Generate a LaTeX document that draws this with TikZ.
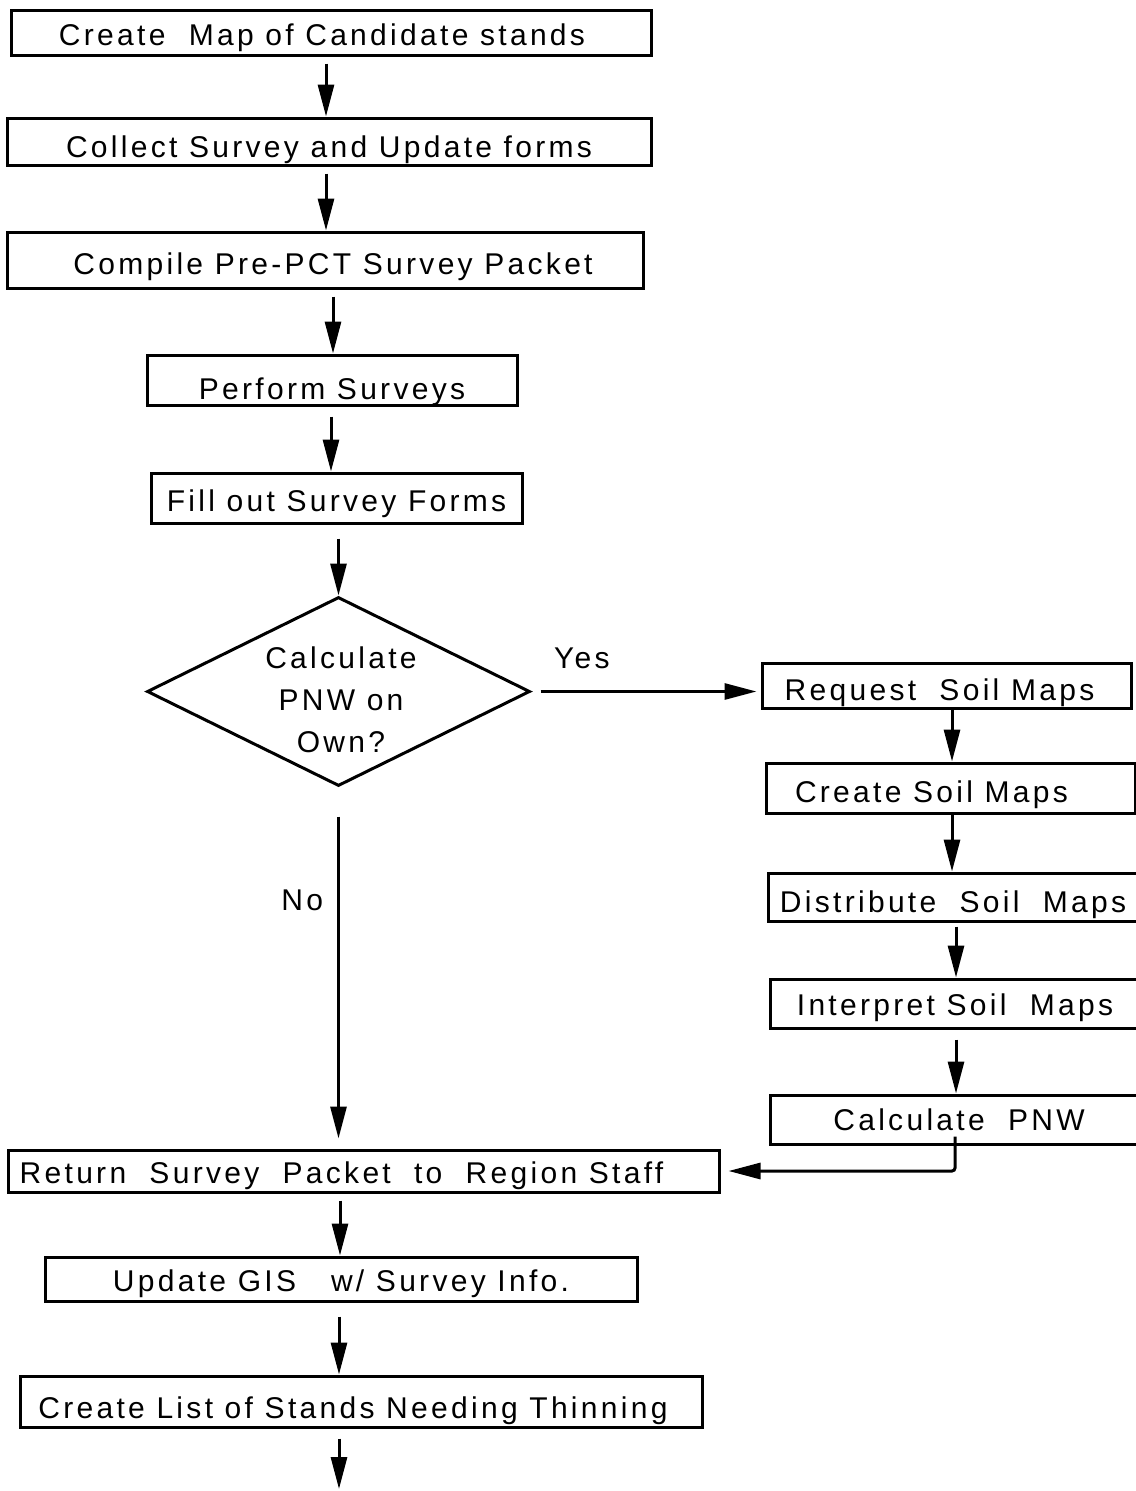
\documentclass[tikz,border=0pt]{standalone}
\usepackage{fontspec}
\setmainfont{Liberation Sans}[LetterSpace=11]
\usetikzlibrary{arrows.meta,shapes.geometric}
% shift a label sideways inside its box
\newcommand{\nudge}[2]{\hspace*{\dimexpr 2\dimexpr#1\relax\relax}#2}
\newcommand{\nudgeleft}[2]{#2\hspace*{\dimexpr 2\dimexpr#1\relax\relax}}
\begin{document}
\begin{tikzpicture}[x=1pt,y=-1pt,
  every node/.style={font=\fontsize{30}{42}\selectfont},
  stepbox/.style={draw, line width=3pt, rectangle, inner sep=0pt, text height=25pt, text depth=0pt},
  decision/.style={draw, line width=3pt, diamond, inner sep=0pt},
  flow/.style={line width=3pt, -{Triangle[length=32pt,width=16pt]}},
  gap/.style={shorten <=7pt}]
\useasboundingbox (0,0) rectangle (1135,1491);

% main column
\node[stepbox, minimum width=640pt, minimum height=45pt, text height=26pt] (map) at (331,32.5)
  {\nudgeleft{9pt}{Create \ Map of Candidate stands}};
\node[stepbox, minimum width=644pt, minimum height=47pt, text height=32pt] (collect) at (329,141.5)
  {Collect Survey and Update forms};
\node[stepbox, minimum width=636pt, minimum height=56pt, text height=29pt] (compile) at (325,260)
  {\nudge{8pt}{Compile Pre-PCT Survey Packet}};
\node[stepbox, minimum width=370pt, minimum height=50pt, text height=39pt] (perform) at (332,380)
  {Perform Surveys};
\node[stepbox, minimum width=371pt, minimum height=50pt, text height=27pt] (fill) at (336.5,498)
  {Fill out Survey Forms};
\node[decision, minimum width=383pt, minimum height=189pt] (own) at (338.5,691.5) {};
\node[align=center, inner sep=0pt] (owntext) at (341,700) {Calculate\\PNW on\\Own?};

% soil map branch
\node[stepbox, minimum width=369pt, minimum height=45pt, text height=30pt] (request) at (946.5,685.5)
  {\nudgeleft{7pt}{Request \ Soil Maps}};
\node[stepbox, minimum width=369pt, minimum height=50pt, text height=29pt] (createsoil) at (950.5,788)
  {\nudgeleft{19pt}{Create Soil Maps}};
\node[stepbox, minimum width=370pt, minimum height=48pt, text height=31pt] (distribute) at (953,897)
  {Distribute \ Soil \ Maps};
\node[stepbox, minimum width=370pt, minimum height=49pt, text height=24pt] (interpret) at (955,1003.5)
  {Interpret Soil \ Maps};
\node[stepbox, minimum width=370pt, minimum height=49pt, text height=21pt] (calcpnw) at (955,1119.5)
  {\nudge{4pt}{Calculate \ PNW}};

% closing steps
\node[stepbox, minimum width=711pt, minimum height=42pt, text height=25pt] (return) at (363.5,1171)
  {\nudgeleft{22pt}{Return \ Survey \ Packet \ to \ Region Staff}};
\node[stepbox, minimum width=592pt, minimum height=44pt, text height=25pt] (gis) at (341,1279)
  {Update GIS \ \ w/ Survey Info.};
\node[stepbox, minimum width=682pt, minimum height=51pt, text height=34pt] (list) at (361,1401.5)
  {\nudgeleft{8pt}{Create List of Stands Needing Thinning}};
\coordinate (out) at (339,1489);

% connectors of the main column
\draw[flow, gap] (map.south -| 326,0)     -- (collect.north -| 326,0);
\draw[flow, gap] (collect.south -| 326,0) -- (compile.north -| 326,0);
\draw[flow, gap] (compile.south -| 333,0) -- (perform.north -| 333,0);
\draw[flow, shorten <=10pt] (perform.south -| 331,0) -- (fill.north -| 331,0);
\draw[flow, shorten <=14pt] (fill.south -| own.north) -- (own.north);

% decision branches
\draw[flow, shorten <=9pt, shorten >=4pt] (own.east) -- (own.east -| request.west)
  node[pos=0.22, above=21pt, inner sep=0pt] (yes) {Yes};
\draw[flow, shorten <=29pt, shorten >=10pt] (own.south) -- (own.south |- return.north)
  node[pos=0.313, left=14pt, inner sep=0pt] (no) {No};

% soil map chain
\draw[flow] (request.south -| 952,0)    -- (createsoil.north -| 952,0);
\draw[flow] (createsoil.south -| 952,0) -- (distribute.north -| 952,0);
\draw[flow, shorten <=4pt] (distribute.south -| 956,0) -- (interpret.north -| 956,0);
\draw[flow, shorten <=10pt] (interpret.south -| 956,0) -- (calcpnw.north -| 956,0);
\draw[flow, rounded corners=3pt, shorten >=8pt] ([yshift=9pt]calcpnw.south) |- (return.east);

% closing connectors
\draw[flow, gap] (return.south -| 340,0) -- (gis.north -| 340,0);
\draw[flow, shorten <=14pt] (gis.south -| 339,0) -- (list.north -| 339,0);
\draw[flow, shorten <=10pt] (list.south -| out) -- (out);
\end{tikzpicture}
\end{document}
